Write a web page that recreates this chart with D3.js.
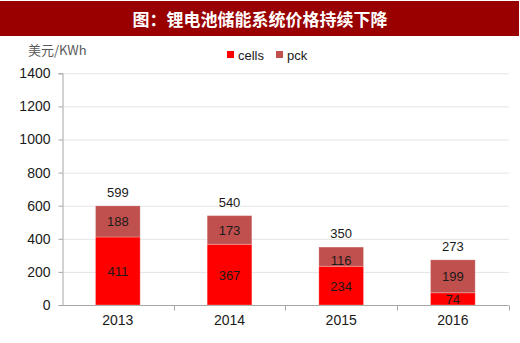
<!DOCTYPE html>
<html><head><meta charset="utf-8">
<script src="https://cdn.jsdelivr.net/npm/d3@7"></script>
<style>body{margin:0;background:#fff}svg{display:block}</style>
</head><body>
<script>
const years = ["2013","2014","2015","2016"];
const cells = [411,367,234,74];
const pck = [188,173,116,199];
const totals = [599,540,350,273];
const yTicks = [0,200,400,600,800,1000,1200,1400];
const seriesNames = ["cells","pck"];
const colors = ["#ff0000","#c0504d"];

const W=520,H=343;
const svg=d3.select("body").append("svg").attr("width",W).attr("height",H);
const font="'Liberation Sans', Arial, sans-serif";
const cjk="'Noto Sans CJK SC', sans-serif";

// title banner
svg.append("rect").attr("x",0).attr("y",1).attr("width",519).attr("height",35).attr("fill","#990000");
svg.append("text").attr("x",260).attr("y",25.5).attr("text-anchor","middle")
  .attr("fill","#fff").attr("font-family",cjk).attr("font-weight","bold").attr("font-size",17)
  .text("图：锂电池储能系统价格持续下降");

const x=d3.scaleBand().domain(years).range([62,508.7]).paddingInner(0.6).paddingOuter(0.3);
const y=d3.scaleLinear().domain([0,1400]).range([305,73.3]);

// grid
svg.append("g").selectAll("line").data(yTicks.slice(1)).join("line")
  .attr("x1",62).attr("x2",508.7).attr("y1",d=>y(d)+0.5).attr("y2",d=>y(d)+0.5)
  .attr("stroke","#e4e4e4").attr("stroke-width",1);

// y axis
const ya=svg.append("g").attr("transform","translate(62.5,0)")
  .call(d3.axisLeft(y).tickValues(yTicks).tickSize(4).tickPadding(8).tickFormat(d3.format("d")));
ya.select(".domain").attr("stroke","#a6a6a6");
ya.selectAll(".tick line").attr("stroke","#a6a6a6");
ya.selectAll("text").attr("font-family",font).attr("font-size",14).attr("fill","#1a1a1a");

// x axis
const xa=svg.append("g").attr("transform","translate(0,305.5)")
  .call(d3.axisBottom(x).tickSize(0).tickPadding(10));
xa.select(".domain").attr("d","M62,0H508.7").attr("stroke","#a6a6a6");
xa.selectAll("text").attr("font-family",font).attr("font-size",14).attr("fill","#1a1a1a");
const bounds=years.map((v,i)=>62+(508.7-62)/4*(i+1));
xa.append("g").selectAll("line").data(bounds).join("line")
  .attr("x1",d=>Math.round(d)+0.5).attr("x2",d=>Math.round(d)+0.5).attr("y1",0).attr("y2",5)
  .attr("stroke","#a6a6a6");

// stacked bars
const data=years.map((yr,i)=>({year:yr,cells:cells[i],pck:pck[i]}));
const stack=d3.stack().keys(seriesNames)(data);
const g=svg.append("g");
stack.forEach((s,si)=>{
  g.append("g").selectAll("rect").data(s).join("rect")
    .attr("x",d=>x(d.data.year)).attr("width",x.bandwidth())
    .attr("y",d=>y(d[1])).attr("height",d=>y(d[0])-y(d[1]))
    .attr("fill",colors[si]).attr("stroke","#ffffff").attr("stroke-opacity",0.25).attr("stroke-width",1);
  g.append("g").selectAll("text").data(s).join("text")
    .attr("x",d=>x(d.data.year)+x.bandwidth()/2)
    .attr("y",d=>{const h=y(d[0])-y(d[1]);const c=(y(d[0])+y(d[1]))/2; return h<20? y(d[0])-1 : c+5;})
    .attr("text-anchor","middle").attr("font-family",font).attr("font-size",13).attr("fill","#1a1a1a")
    .text(d=>d[1]-d[0]);
});
// totals
g.append("g").selectAll("text").data(years).join("text")
  .attr("x",d=>x(d)+x.bandwidth()/2).attr("y",(d,i)=>y(totals[i])-9)
  .attr("text-anchor","middle").attr("font-family",font).attr("font-size",13).attr("fill","#1a1a1a")
  .text((d,i)=>totals[i]);

// y title
svg.append("text").attr("x",28).attr("y",55).attr("font-family",cjk).attr("font-size",13).attr("fill","#595959").text("美元/KWh");

// legend
const lx=[227,276];
seriesNames.forEach((n,i)=>{
  svg.append("rect").attr("x",lx[i]).attr("y",51).attr("width",7).attr("height",7).attr("fill",colors[i]);
  svg.append("text").attr("x",lx[i]+11).attr("y",59.5).attr("font-family",font).attr("font-size",13).attr("fill","#1a1a1a").text(n);
});
</script>
</body></html>
